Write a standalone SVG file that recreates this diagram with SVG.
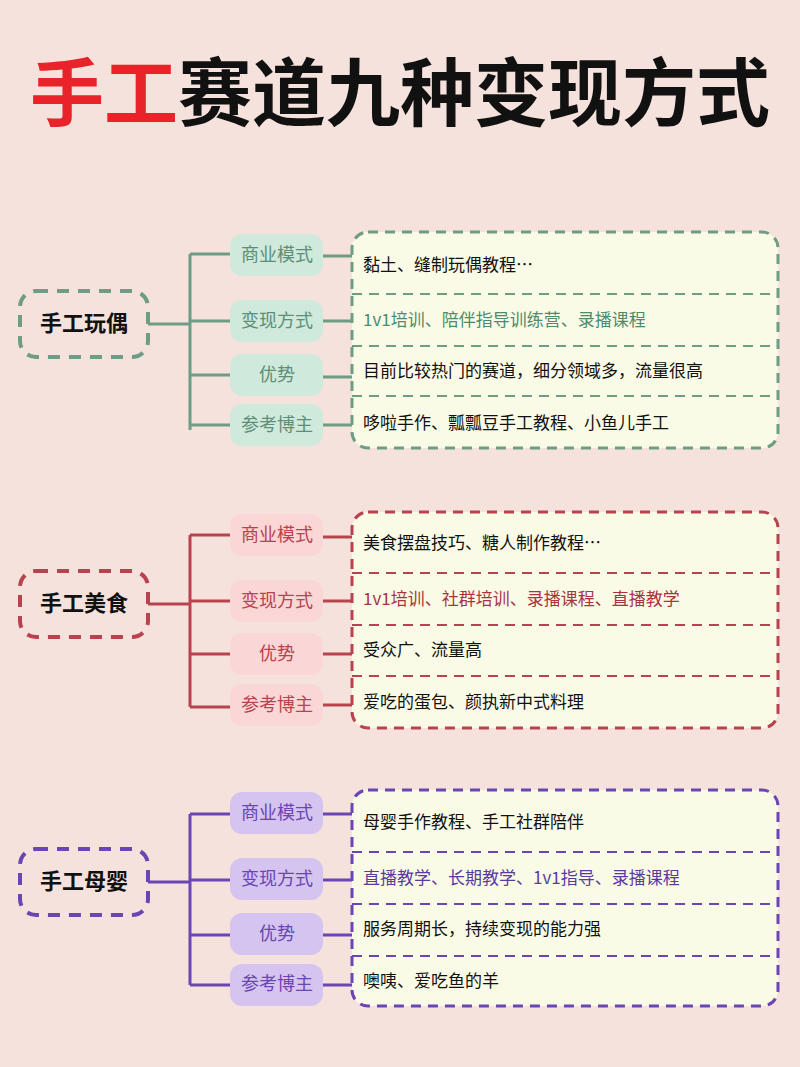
<svg xmlns="http://www.w3.org/2000/svg" width="800" height="1067" viewBox="0 0 800 1067">
<style>
text{font-family:"Noto Sans CJK SC","Liberation Sans",sans-serif}
.t{font-size:17px;fill:#111;dominant-baseline:middle}
.p{font-size:18px;text-anchor:middle;dominant-baseline:middle}
.c{font-size:22px;font-weight:bold;text-anchor:middle;dominant-baseline:middle;fill:#111}
.g{stroke:#6e9c84}.r{stroke:#b8434e}.v{stroke:#6b45b3}
.ln{fill:none;stroke-width:3}
.box{fill:#fafbe6;stroke-width:3;stroke-dasharray:10 7}
.cb{fill:none;stroke-width:4;stroke-dasharray:12 9}
.dv{stroke-width:2;stroke-dasharray:10 7}
</style>
<rect width="800" height="1067" fill="#f6e2dd"/>
<text x="400" y="100" text-anchor="middle" dominant-baseline="middle" font-size="74" font-weight="bold" fill="#111"><tspan fill="#e8242a">手工</tspan>赛道九种变现方式</text>

<g id="connectors">
<g class="ln g"><path d="M148 324H190M190 254V430M190 254H230M190 321H230M190 375H230M190 425H230M323 256H352M323 321H352M323 377H352M323 425H352"/></g>
<g class="ln r"><path d="M148 604H190M190 535V707M190 535H230M190 601H230M190 654H230M190 707H230M323 537H352M323 601H352M323 654H352M323 705H352"/></g>
<g class="ln v"><path d="M148 882H190M190 814V985M190 814H230M190 880H230M190 935H230M190 985H230M323 814H352M323 880H352M323 935H352M323 985H352"/></g>
</g>

<g id="sec1">
<g id="c1"><rect class="cb g" x="20" y="291" width="128" height="66" rx="16"/><text class="c" x="84" y="325">手工玩偶</text></g>
<g id="p1" fill="#cfe9dc"><rect x="230" y="234" width="93" height="42" rx="12"/><rect x="230" y="300" width="93" height="42" rx="12"/><rect x="230" y="354" width="93" height="42" rx="12"/><rect x="230" y="404" width="93" height="42" rx="12"/></g>
<g fill="#5e8f76"><text class="p" x="277" y="256">商业模式</text><text class="p" x="277" y="322">变现方式</text><text class="p" x="277" y="376">优势</text><text class="p" x="277" y="426">参考博主</text></g>
<g id="b1"><rect class="box g" x="352" y="232" width="426" height="216" rx="16"/><path class="dv g" d="M352 294H778M352 346H778M352 396H778"/>
<text class="t" x="363" y="266">黏土、缝制玩偶教程…</text><text class="t" x="363" y="321" fill="#4f8a6c" style="fill:#4f8a6c">1v1培训、陪伴指导训练营、录播课程</text><text class="t" x="363" y="372">目前比较热门的赛道，细分领域多，流量很高</text><text class="t" x="363" y="424">哆啦手作、瓢瓢豆手工教程、小鱼儿手工</text></g>
</g>

<g id="sec2">
<g id="c2"><rect class="cb r" x="20" y="571" width="128" height="66" rx="16"/><text class="c" x="84" y="605">手工美食</text></g>
<g id="p2" fill="#fbd6d6"><rect x="230" y="514" width="93" height="42" rx="12"/><rect x="230" y="580" width="93" height="42" rx="12"/><rect x="230" y="633" width="93" height="42" rx="12"/><rect x="230" y="684" width="93" height="42" rx="12"/></g>
<g fill="#b8434e"><text class="p" x="277" y="536">商业模式</text><text class="p" x="277" y="602">变现方式</text><text class="p" x="277" y="655">优势</text><text class="p" x="277" y="706">参考博主</text></g>
<g id="b2"><rect class="box r" x="352" y="512" width="426" height="216" rx="16"/><path class="dv r" d="M352 573H778M352 625H778M352 676H778"/>
<text class="t" x="363" y="544">美食摆盘技巧、糖人制作教程…</text><text class="t" x="363" y="600" style="fill:#a8343f">1v1培训、社群培训、录播课程、直播教学</text><text class="t" x="363" y="651">受众广、流量高</text><text class="t" x="363" y="703">爱吃的蛋包、颜执新中式料理</text></g>
</g>

<g id="sec3">
<g id="c3"><rect class="cb v" x="20" y="849" width="128" height="66" rx="16"/><text class="c" x="84" y="883">手工母婴</text></g>
<g id="p3" fill="#d5c4f0"><rect x="230" y="792" width="93" height="42" rx="12"/><rect x="230" y="858" width="93" height="42" rx="12"/><rect x="230" y="913" width="93" height="42" rx="12"/><rect x="230" y="964" width="93" height="42" rx="12"/></g>
<g fill="#6b45b3"><text class="p" x="277" y="814">商业模式</text><text class="p" x="277" y="880">变现方式</text><text class="p" x="277" y="935">优势</text><text class="p" x="277" y="985">参考博主</text></g>
<g id="b3"><rect class="box v" x="352" y="790" width="426" height="216" rx="16"/><path class="dv v" d="M352 852H778M352 904H778M352 956H778"/>
<text class="t" x="363" y="823">母婴手作教程、手工社群陪伴</text><text class="t" x="363" y="879" style="fill:#5a3aa0">直播教学、长期教学、1v1指导、录播课程</text><text class="t" x="363" y="930">服务周期长，持续变现的能力强</text><text class="t" x="363" y="982">噢咦、爱吃鱼的羊</text></g>
</g>
</svg>
